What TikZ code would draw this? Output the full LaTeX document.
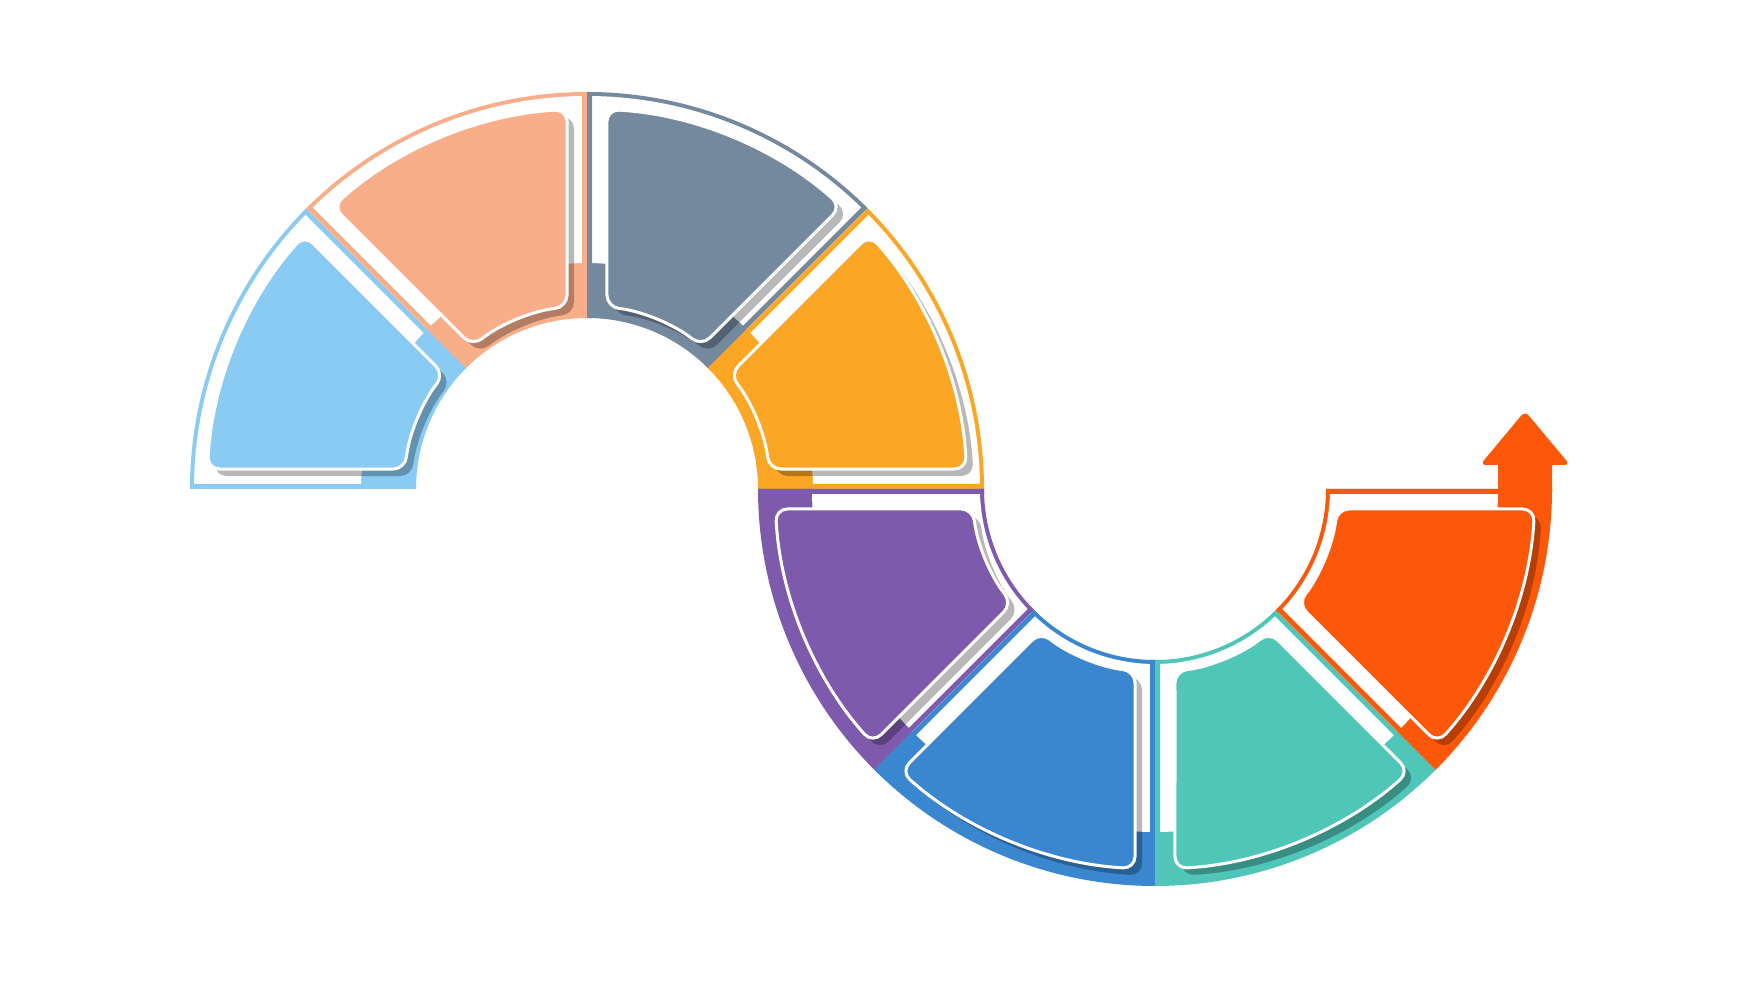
\documentclass[tikz,border=0pt]{standalone}
\usepackage{tikz}

\definecolor{segA}{HTML}{89CBF3}
\definecolor{segB}{HTML}{F9AE8A}
\definecolor{segC}{HTML}{74899E}
\definecolor{segD}{HTML}{FCA625}
\definecolor{segE}{HTML}{7E5AAD}
\definecolor{segF}{HTML}{3A87CF}
\definecolor{segG}{HTML}{50C6B8}
\definecolor{segH}{HTML}{FD5809}

% annular sector from angle #1 to #2, radii #3 and #4
\newcommand{\ringpart}[4]{(#1:#3) arc[start angle=#1, end angle=#2, radius=#3] -- (#2:#4) arc[start angle=#2, end angle=#1, radius=#4] -- cycle}
% rounded tile of a sector starting at angle #1 (begins halfway up its first side)
\newcommand{\tile}[1]{({#1+4.08}:281) -- ({#1+3.01}:380) arc[start angle={#1+3.01}, end angle={#1+41.99}, radius=380] -- ({#1+38.73}:183) arc[start angle={#1+38.73}, end angle={#1+6.27}, radius=183] -- cycle}

\begin{document}
\begin{tikzpicture}[x=1pt, y=1pt,
  shade/.style={black, opacity=.28, rounded corners=12pt},
  tilebox/.style={draw=white, line width=3pt, rounded corners=12pt}]
\useasboundingbox (0,0) rectangle (1742,980);
\coordinate (top) at (587,491);
\coordinate (bot) at (1155,491);

\foreach \c/\a/\col/\wa/\wb in {top/135/segA/226/393, top/90/segB/226/393,
    top/45/segC/226/393, top/0/segD/226/393, bot/180/segE/175/343,
    bot/225/segF/175/343, bot/270/segG/175/343, bot/315/segH/175/343}{
  \begin{scope}[shift={(\c)}]
    \pgfmathsetmacro\b{\a+45}
    \fill[\col] \ringpart{\a}{\b}{171}{397};
    \begin{scope}
      \clip \ringpart{\a}{\b}{171}{397};
      \fill[white] \ringpart{\a}{\b}{\wa}{\wb};
      \draw[\col, line width=10pt] (\a:150) -- (\a:420) (\b:150) -- (\b:420);
    \end{scope}
    \fill[shade, shift={(7,-7)}] \tile{\a};
    \fill[\col, tilebox] \tile{\a};
  \end{scope}
}

% arrow at the end
\fill[segH] (1498,488) -- (1498,515) [rounded corners=6pt] -- (1480,515)
  -- (1525,569) -- (1570,515) [sharp corners] -- (1552,515) -- (1552,488) -- cycle;
\end{tikzpicture}
\end{document}
